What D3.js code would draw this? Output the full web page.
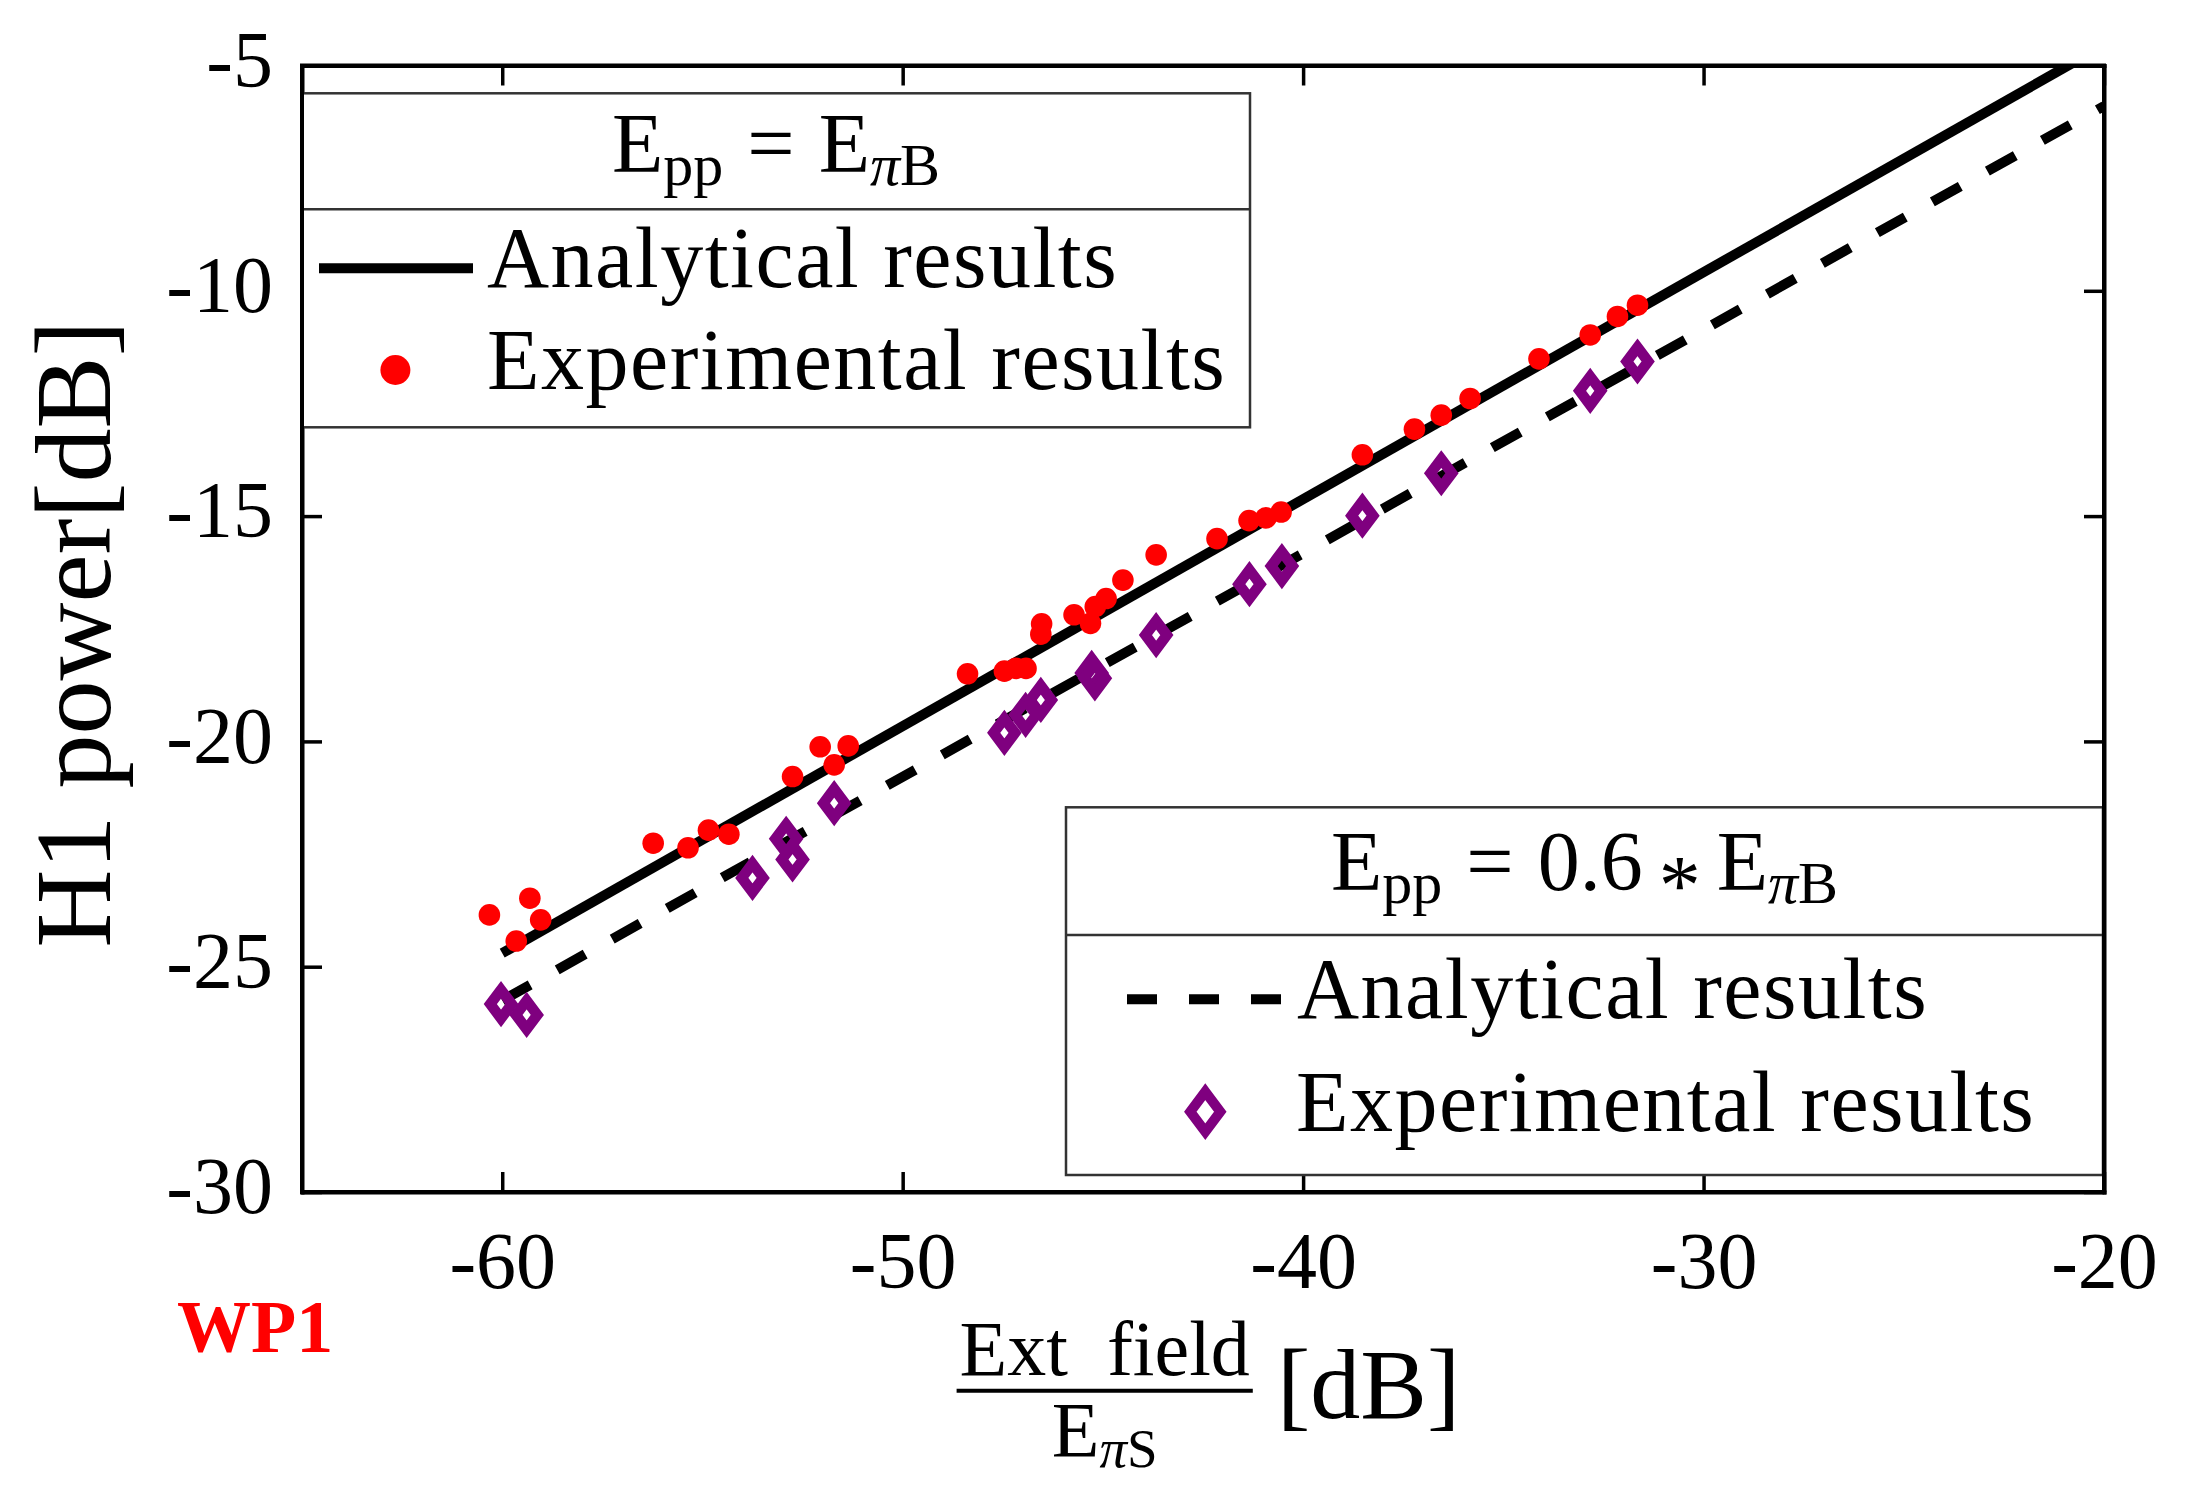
<!DOCTYPE html>
<html>
<head>
<meta charset="utf-8">
<script src="https://d3js.org/d3.v7.min.js"></script>
<style>
  body { margin: 0; background: #fff; }
  text { font-family: "Liberation Serif", "Times New Roman", serif; fill: #000; }
  .tick text { font-size: 80px; font-family: "Liberation Serif", serif; }
  .tick line { stroke: #000; stroke-width: 3.5; }
  .domain { stroke: #000; stroke-width: 4; stroke-linecap: square; }
  .legend-text { font-size: 86px; letter-spacing: 1.5px; }
</style>
</head>
<body>
<svg id="chart" width="2188" height="1500"></svg>
<script>
// ---- values ----
const xTicks = [-60, -50, -40, -30, -20];
const yTicks = [-30, -25, -20, -15, -10, -5];

// analytical results: straight lines, end points
const analyticX = [-60, -20];
const analyticFullY = [-24.70, -4.55];   // Epp = E_piB
const analyticPartY = [-25.75, -5.90];   // Epp = 0.6*E_piB

// experimental results, Epp = E_piB (red dots)
const expFullX = [-60.32, -59.65, -59.31, -59.04, -56.23, -55.36, -54.85, -54.34,
  -52.75, -52.06, -51.71, -51.36, -48.38, -47.46, -47.17, -46.92, -46.53, -46.55,
  -45.72, -45.31, -45.19, -44.92, -44.50, -43.67, -42.15, -41.35, -40.93, -40.55,
  -38.52, -37.22, -36.55, -35.83, -34.11, -32.83, -32.15, -31.65];
const expFullY = [-23.85, -24.43, -23.48, -23.96, -22.26, -22.36, -21.97, -22.06,
  -20.78, -20.12, -20.52, -20.10, -18.50, -18.44, -18.38, -18.38, -17.39, -17.62,
  -17.19, -17.38, -17.01, -16.83, -16.42, -15.86, -15.50, -15.10, -15.04, -14.91,
  -13.64, -13.07, -12.76, -12.39, -11.51, -10.98, -10.57, -10.32];

// experimental results, Epp = 0.6*E_piB (purple diamonds)
const expPartX = [-60.03, -59.39, -53.75, -52.91, -52.75, -51.71, -47.46, -46.93,
  -46.55, -45.28, -45.20, -43.67, -41.34, -40.53, -38.52, -36.55, -32.83, -31.65];
const expPartY = [-25.83, -26.07, -23.03, -22.16, -22.62, -21.37, -19.81, -19.41,
  -19.08, -18.48, -18.60, -17.64, -16.51, -16.11, -14.99, -14.05, -12.22, -11.57];

const legendLabels = ["Analytical results", "Experimental results"];

const red = "#ff0000";
const purple = "#7f007f";

const svg = d3.select("#chart");
svg.append("rect").attr("width", 2188).attr("height", 1500).attr("fill", "#fff");

const plot = {left: 302, right: 2104, top: 65.5, bottom: 1192};

const x = d3.scaleLinear().domain([-65, -20]).range([plot.left, plot.right]);
const y = d3.scaleLinear().domain([-30, -5]).range([plot.bottom, plot.top]);

svg.append("clipPath").attr("id", "clip")
  .append("rect")
  .attr("x", plot.left).attr("y", plot.top)
  .attr("width", plot.right - plot.left).attr("height", plot.bottom - plot.top);

const zip = (xs, ys) => xs.map((v, i) => ({x: v, y: ys[i]}));
const line = d3.line().x(d => x(d.x)).y(d => y(d.y));

// diamond outline, half width a, half height b
const diamond = (a, b) => `M0,${-b}L${a},0L0,${b}L${-a},0Z`;

const data = svg.append("g").attr("clip-path", "url(#clip)");

data.append("path")
  .datum(zip(analyticX, analyticFullY))
  .attr("d", line)
  .attr("fill", "none").attr("stroke", "#000").attr("stroke-width", 10);

data.append("path")
  .datum(zip(analyticX, analyticPartY))
  .attr("d", line)
  .attr("fill", "none").attr("stroke", "#000").attr("stroke-width", 10)
  .attr("stroke-dasharray", "32,31");

data.selectAll(".dot")
  .data(zip(expFullX, expFullY))
  .join("circle")
  .attr("class", "dot")
  .attr("cx", d => x(d.x)).attr("cy", d => y(d.y))
  .attr("r", 10.8)
  .attr("fill", red);

data.selectAll(".dia")
  .data(zip(expPartX, expPartY))
  .join("path")
  .attr("class", "dia")
  .attr("transform", d => `translate(${x(d.x)},${y(d.y)})`)
  .attr("d", diamond(10.7, 14.25))
  .attr("fill", "none").attr("stroke", purple).attr("stroke-width", 10.6);

// ---- axes, ticks pointing inward on all four sides ----
const fmt = d => String(d);

svg.append("g")
  .attr("transform", `translate(0,${plot.bottom})`)
  .call(d3.axisBottom(x).tickValues(xTicks).tickSizeInner(-20).tickSizeOuter(0)
    .tickPadding(39).tickFormat(fmt));

const gy = svg.append("g")
  .attr("transform", `translate(${plot.left},0)`)
  .call(d3.axisLeft(y).tickValues(yTicks).tickSizeInner(-20).tickSizeOuter(0)
    .tickPadding(29).tickFormat(fmt));
gy.selectAll(".tick text").attr("dy", "0.26em");

svg.append("g")
  .attr("transform", `translate(0,${plot.top})`)
  .call(d3.axisTop(x).tickValues(xTicks).tickSizeInner(-20).tickSizeOuter(0).tickFormat(""));

svg.append("g")
  .attr("transform", `translate(${plot.right},0)`)
  .call(d3.axisRight(y).tickValues(yTicks).tickSizeInner(-20).tickSizeOuter(0).tickFormat(""));

svg.selectAll(".tick text").style("fill", "#000");

// ---- legends ----
// parts: {t, sub, it, dx, shift}; shift moves one piece down (e.g. the * operator)
function addMath(textSel, parts, subSize, subShift) {
  let cur = 0;
  parts.forEach(p => {
    const ts = textSel.append("tspan").text(p.t);
    const want = p.sub ? subShift : (p.shift || 0);
    if (want !== cur) { ts.attr("dy", want - cur); cur = want; }
    if (p.dx) ts.attr("dx", p.dx);
    if (p.sub) ts.style("font-size", subSize + "px");
    if (p.it) ts.style("font-style", "italic");
  });
}

function legendBox(x0, y0, x1, yDiv, y1) {
  const g = svg.append("g");
  g.append("rect")
    .attr("x", x0).attr("y", y0).attr("width", x1 - x0).attr("height", y1 - y0)
    .attr("fill", "#fff").attr("stroke", "#333").attr("stroke-width", 2.5);
  g.append("line")
    .attr("x1", x0).attr("x2", x1).attr("y1", yDiv).attr("y2", yDiv)
    .attr("stroke", "#333").attr("stroke-width", 2.5);
  return g;
}

// legend 1: Epp = EpiB
const leg1 = legendBox(302, 93.3, 1250, 209.3, 427.3);
addMath(leg1.append("text").attr("x", 776).attr("y", 171.7)
  .attr("text-anchor", "middle").style("font-size", "84px"),
  [{t: "E"}, {t: "pp", sub: 1}, {t: "=", dx: 24}, {t: "E", dx: 24},
   {t: "π", sub: 1, it: 1}, {t: "B", sub: 1}], 60, 13);
leg1.append("line").attr("x1", 319).attr("x2", 473).attr("y1", 268.3).attr("y2", 268.3)
  .attr("stroke", "#000").attr("stroke-width", 10);
leg1.append("text").attr("class", "legend-text").attr("x", 487).attr("y", 287.3).text(legendLabels[0]);
leg1.append("circle").attr("cx", 395.4).attr("cy", 370).attr("r", 15).attr("fill", red);
leg1.append("text").attr("class", "legend-text").attr("x", 487).attr("y", 389.3).text(legendLabels[1]);

// legend 2: Epp = 0.6*EpiB
const leg2 = legendBox(1066, 807.3, 2103, 935, 1175);
addMath(leg2.append("text").attr("x", 1584.5).attr("y", 890)
  .attr("text-anchor", "middle").style("font-size", "84px"),
  [{t: "E"}, {t: "pp", sub: 1}, {t: "=", dx: 24}, {t: "0.6", dx: 24}, {t: "*", dx: 16, shift: 24},
   {t: "E", dx: 16}, {t: "π", sub: 1, it: 1}, {t: "B", sub: 1}], 60, 13);
leg2.append("line").attr("x1", 1127).attr("x2", 1283).attr("y1", 999.3).attr("y2", 999.3)
  .attr("stroke", "#000").attr("stroke-width", 10).attr("stroke-dasharray", "30,32");
leg2.append("text").attr("class", "legend-text").attr("x", 1297).attr("y", 1018.3).text(legendLabels[0]);
leg2.append("path").attr("transform", "translate(1205.3,1111.7)")
  .attr("d", diamond(15, 20))
  .attr("fill", "none").attr("stroke", purple).attr("stroke-width", 10);
leg2.append("text").attr("class", "legend-text").attr("x", 1296).attr("y", 1130.7).text(legendLabels[1]);

// frame on top so legend edges sit under the axis lines
svg.append("rect")
  .attr("x", plot.left).attr("y", plot.top)
  .attr("width", plot.right - plot.left).attr("height", plot.bottom - plot.top)
  .attr("fill", "none").attr("stroke", "#000").attr("stroke-width", 4);

// ---- axis titles ----
svg.append("text")
  .attr("transform", "translate(110,634) rotate(-90)")
  .attr("text-anchor", "middle")
  .style("font-size", "108px")
  .text("H1 power[dB]");

const xl = svg.append("g");
xl.append("text")
  .attr("x", 1104.7).attr("y", 1375)
  .attr("text-anchor", "middle")
  .style("font-size", "78px").style("white-space", "pre")
  .text("Ext  field");
xl.append("line")
  .attr("x1", 956.6).attr("x2", 1252.8).attr("y1", 1390.7).attr("y2", 1390.7)
  .attr("stroke", "#000").attr("stroke-width", 4);
addMath(xl.append("text").attr("x", 1104.7).attr("y", 1456)
  .attr("text-anchor", "middle").style("font-size", "78px"),
  [{t: "E"}, {t: "π", sub: 1, it: 1}, {t: "S", sub: 1}], 55, 11);
xl.append("text")
  .attr("x", 1277).attr("y", 1418.3)
  .style("font-size", "100px")
  .text("[dB]");

svg.append("text")
  .attr("x", 177).attr("y", 1351.7)
  .style("font-size", "74px").style("font-weight", "bold").style("fill", red)
  .text("WP1");
</script>
</body>
</html>
